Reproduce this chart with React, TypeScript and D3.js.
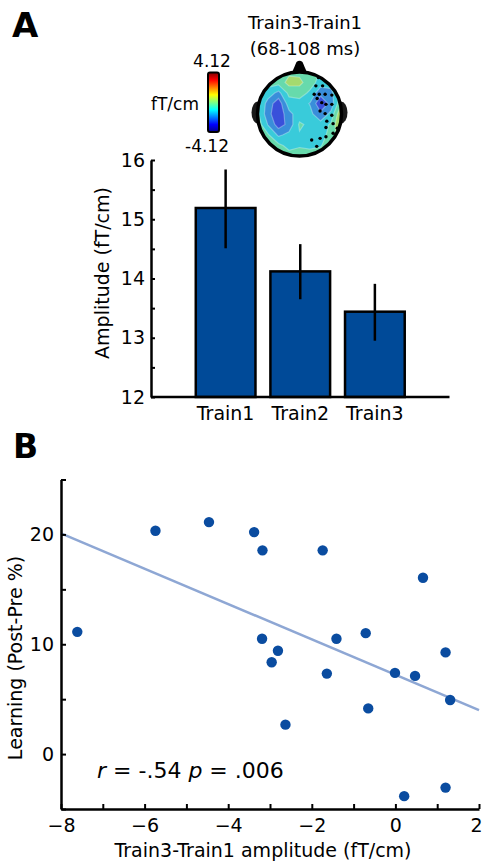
import * as d3 from 'd3';
import React, { useEffect, useRef } from 'react';

// Panel A: bar chart values (fT/cm)
const conditions = ['Train1', 'Train2', 'Train3'];
const amplitudes = [15.19, 14.12, 13.44];
const errLow = [14.51, 13.65, 12.95];
const errHigh = [15.84, 14.58, 13.91];
const barTicks = [12, 13, 14, 15, 16];

// Panel B: scatter values
const ampDiff = [-7.61, -5.74, -4.46, -3.38, -3.18, -3.19, -2.81, -2.96, -2.63, -1.74, -1.64,
    -1.41, -0.71, -0.65, -0.01, 0.47, 0.66, 1.20, 1.31, 0.21, 1.20];
const learning = [11.13, 20.33, 21.12, 20.21, 18.55, 10.50, 9.41, 8.36, 2.68, 18.55, 7.33,
    10.50, 11.01, 4.16, 7.39, 7.12, 16.05, 9.26, 4.92, -3.83, -3.05];
const fitX = [-8, 2];
const fitY = [20.1, 4.0];
const scatterXTicks = [-8, -6, -4, -2, 0, 2];
const scatterYTicks = [0, 10, 20];

// Topographic map (Train3-Train1), rows top->bottom, cols left->right, fT/cm
const colorLimit = 4.12;
const topoGrid = [
    [-0.4, -0.4, -0.3, -0.2, -0.2, -0.4, -0.9, -0.9, -0.5],
    [-0.4, -0.5, -0.5, 0.3, 0.2, -0.4, -1.2, -1.3, -0.5],
    [-0.5, -1.2, -1.9, -0.6, -0.4, -1.0, -2.2, -1.9, -0.4],
    [-0.6, -2.0, -3.0, -1.2, -1.2, -1.7, -3.1, -2.2, 0.0],
    [-0.6, -2.2, -3.1, -1.9, -1.2, -1.4, -2.3, -1.4, 0.9],
    [-0.3, -1.7, -2.9, -2.2, -0.7, -1.0, -1.3, -0.7, 1.1],
    [0.3, -0.7, -1.8, -1.4, -0.9, -1.1, -1.2, -0.5, 0.6],
    [0.5, -0.1, -0.6, -1.1, -0.9, -1.0, -0.9, -0.3, 0.2],
    [0.3, 0.0, -0.3, -0.5, -0.5, -0.5, -0.4, -0.2, 0.0],
];
// significant sensors, head-normalised coordinates
const sensorX = [0.45, 0.39, 0.55, 0.71, 0.35, 0.47, 0.61, 0.77, 0.42, 0.53, 0.63, 0.77, 0.49,
    0.61, 0.77, 0.65, 0.80, 0.90, 0.63, 0.80, 0.63, 0.29, 0.49, 0.80, 0.41, 0.69];
const sensorY = [-0.87, -0.67, -0.67, -0.73, -0.47, -0.47, -0.47, -0.45, -0.37, -0.27, -0.23, -0.23, -0.07,
    -0.01, 0.03, 0.17, 0.23, 0.34, 0.32, 0.46, 0.54, 0.62, 0.58, 0.74, 0.77, 0.86];

const FONT = '"DejaVu Sans", sans-serif';
const W = 483;
const H = 866;

const jetStops = [0, 0.125, 0.375, 0.625, 0.875, 1];
const jetColors = ['#00008f', '#0000ff', '#00ffff', '#ffff00', '#ff0000', '#800000'];

const App = () => {
    const ref = useRef<SVGSVGElement>(null);

    useEffect(() => {
        const svg = d3.select(ref.current);
        svg.selectAll('*').remove();
        drawBars(svg);
        drawTopo(svg);
        drawScatter(svg);
    }, []);

    const jet = d3.scaleLinear<string>()
        .domain(jetStops.map(t => -colorLimit + 2 * colorLimit * t))
        .range(jetColors)
        .clamp(true);

    const styleAxis = (g, width) => {
        g.select('.domain').attr('stroke', '#000').attr('stroke-width', width);
        g.selectAll('.tick line').attr('stroke', '#000').attr('stroke-width', 2);
        g.selectAll('.tick text').attr('fill', '#000').style('font-family', FONT).style('font-size', '19px');
    };

    const drawBars = (svg) => {
        const x = d3.scaleLinear().domain([0, 4]).range([151, 449.5]);
        const y = d3.scaleLinear().domain([12, 16]).range([397, 160]);

        svg.selectAll('.bar')
            .data(amplitudes)
            .enter().append('rect')
            .attr('class', 'bar')
            .attr('x', (d, i) => x(i + 1 - 0.4))
            .attr('width', x(0.8) - x(0))
            .attr('y', d => y(d))
            .attr('height', d => y(12) - y(d))
            .attr('fill', '#004a98')
            .attr('stroke', '#000')
            .attr('stroke-width', 2.5);

        svg.selectAll('.err')
            .data(amplitudes)
            .enter().append('line')
            .attr('class', 'err')
            .attr('x1', (d, i) => x(i + 1))
            .attr('x2', (d, i) => x(i + 1))
            .attr('y1', (d, i) => y(errLow[i]))
            .attr('y2', (d, i) => y(errHigh[i]))
            .attr('stroke', '#000')
            .attr('stroke-width', 2.5);

        const yAxis = svg.append('g')
            .attr('transform', `translate(${x(0)},0)`)
            .call(d3.axisLeft(y)
                .tickValues(d3.range(12, 16.01, 0.5))
                .tickSizeInner(-4)
                .tickSizeOuter(0)
                .tickPadding(6)
                .tickFormat(d => barTicks.includes(d) ? String(d) : ''));
        styleAxis(yAxis, 2.5);

        svg.append('line')
            .attr('x1', x(0)).attr('x2', x(4))
            .attr('y1', y(12)).attr('y2', y(12))
            .attr('stroke', '#000')
            .attr('stroke-width', 2.5);

        svg.selectAll('.cond')
            .data(conditions)
            .enter().append('text')
            .attr('class', 'cond')
            .attr('x', (d, i) => x(i + 1))
            .attr('y', 420)
            .attr('text-anchor', 'middle')
            .style('font-family', FONT)
            .style('font-size', '19px')
            .text(d => d);

        svg.append('text')
            .attr('transform', `translate(109,273) rotate(-90)`)
            .attr('text-anchor', 'middle')
            .style('font-family', FONT)
            .style('font-size', '19px')
            .text('Amplitude (fT/cm)');

        svg.append('text')
            .attr('x', 12).attr('y', 37)
            .style('font-family', FONT)
            .style('font-size', '34px')
            .style('font-weight', 'bold')
            .text('A');
    };

    const drawTopo = (svg) => {
        const cx = 299.5, cy = 114, r = 42;
        const n = topoGrid.length;
        const muted = v => d3.interpolateRgb(jet(v), '#8fa3a3')(0.4);

        // title
        svg.append('text')
            .attr('x', 305).attr('y', 29)
            .attr('text-anchor', 'middle')
            .style('font-family', FONT).style('font-size', '18px')
            .text('Train3-Train1');
        svg.append('text')
            .attr('x', 305).attr('y', 55)
            .attr('text-anchor', 'middle')
            .style('font-family', FONT).style('font-size', '18px')
            .text('(68-108 ms)');

        // colorbar
        const defs = svg.append('defs');
        const grad = defs.append('linearGradient')
            .attr('id', 'jet')
            .attr('x1', 0).attr('x2', 0).attr('y1', 1).attr('y2', 0);
        jetStops.forEach((t, i) => {
            grad.append('stop').attr('offset', t).attr('stop-color', jetColors[i]);
        });
        svg.append('rect')
            .attr('x', 208).attr('y', 72.5)
            .attr('width', 11).attr('height', 59.5)
            .attr('rx', 2)
            .attr('fill', 'url(#jet)')
            .attr('stroke', '#000')
            .attr('stroke-width', 2);
        svg.append('text')
            .attr('x', 212).attr('y', 66.5)
            .attr('text-anchor', 'middle')
            .style('font-family', FONT).style('font-size', '17px')
            .text(String(colorLimit));
        svg.append('text')
            .attr('x', 207).attr('y', 151.5)
            .attr('text-anchor', 'middle')
            .style('font-family', FONT).style('font-size', '17px')
            .text('-' + colorLimit);
        svg.append('text')
            .attr('x', 199).attr('y', 110)
            .attr('text-anchor', 'end')
            .style('font-family', FONT).style('font-size', '17px')
            .text('fT/cm');

        // nose and ears
        svg.append('path')
            .attr('d', `M${cx - 9},${cy - r + 4} L${cx - 3},${cy - r - 10} Q${cx},${cy - r - 12.5} ${cx + 3},${cy - r - 10} L${cx + 9},${cy - r + 4}Z`)
            .attr('fill', '#000');
        [-1, 1].forEach(s => {
            svg.append('ellipse')
                .attr('cx', cx + s * (r - 0.5)).attr('cy', cy - 1.5)
                .attr('rx', 6.5).attr('ry', 11)
                .attr('fill', '#1a1a1a');
        });

        defs.append('clipPath').attr('id', 'head')
            .append('circle').attr('cx', cx).attr('cy', cy).attr('r', r);

        const step = colorLimit / 5;
        const thresholds = d3.range(-colorLimit, colorLimit, step);
        const contours = d3.contours().size([n, n]).thresholds(thresholds)(topoGrid.flat());
        const proj = d3.geoIdentity()
            .scale(2.25 * r / n)
            .translate([cx - 1.125 * r, cy - 1.125 * r]);
        const path = d3.geoPath(proj);

        const map = svg.append('g').attr('clip-path', 'url(#head)');
        map.append('circle').attr('cx', cx).attr('cy', cy).attr('r', r)
            .attr('fill', muted(-0.4));
        map.selectAll('.band')
            .data(contours)
            .enter().append('path')
            .attr('class', 'band')
            .attr('d', path)
            .attr('fill', d => muted(d.value + step / 2))
            .attr('stroke', 'rgba(255,255,255,0.3)')
            .attr('stroke-width', 1.2);

        map.selectAll('.sensor')
            .data(sensorX)
            .enter().append('circle')
            .attr('class', 'sensor')
            .attr('cx', d => cx + d * r)
            .attr('cy', (d, i) => cy + sensorY[i] * r)
            .attr('r', 1.7)
            .attr('fill', '#000');

        svg.append('circle')
            .attr('cx', cx).attr('cy', cy).attr('r', r)
            .attr('fill', 'none')
            .attr('stroke', '#000')
            .attr('stroke-width', 3.5);
    };

    const drawScatter = (svg) => {
        const x = d3.scaleLinear().domain([-8, 2]).range([61, 479]);
        const y = d3.scaleLinear().domain([-5, 25]).range([809, 479.5]);

        svg.append('path')
            .datum(fitX.map((d, i) => [d, fitY[i]]))
            .attr('fill', 'none')
            .attr('stroke', '#8ea7d4')
            .attr('stroke-width', 2.5)
            .attr('d', d3.line().x(d => x(d[0])).y(d => y(d[1])));

        svg.selectAll('.dot')
            .data(ampDiff)
            .enter().append('circle')
            .attr('class', 'dot')
            .attr('cx', d => x(d))
            .attr('cy', (d, i) => y(learning[i]))
            .attr('r', 5.2)
            .attr('fill', '#0a4ca0');

        const xAxis = svg.append('g')
            .attr('transform', `translate(0,${y(-5)})`)
            .call(d3.axisBottom(x)
                .tickValues(d3.range(-8, 2.01, 1))
                .tickSizeInner(-5)
                .tickSizeOuter(0)
                .tickPadding(10)
                .tickFormat(d => scatterXTicks.includes(d) ? d3.format('')(d) : ''));
        styleAxis(xAxis, 2.5);
        // keep the last label inside the page
        xAxis.selectAll('.tick text').filter(d => d === 2).attr('dx', -3);

        const yAxis = svg.append('g')
            .attr('transform', `translate(${x(-8)},0)`)
            .call(d3.axisLeft(y)
                .tickValues(d3.range(-5, 25.01, 5))
                .tickSizeInner(-5)
                .tickSizeOuter(0)
                .tickPadding(7)
                .tickFormat(d => scatterYTicks.includes(d) ? String(d) : ''));
        styleAxis(yAxis, 2.5);

        const stat = svg.append('text')
            .attr('x', 97).attr('y', 778)
            .style('font-family', FONT)
            .style('font-size', '22px');
        stat.append('tspan').style('font-style', 'italic').text('r');
        stat.append('tspan').text(' = -.54 ');
        stat.append('tspan').style('font-style', 'italic').text('p');
        stat.append('tspan').text(' = .006');

        svg.append('text')
            .attr('x', 263).attr('y', 857)
            .attr('text-anchor', 'middle')
            .style('font-family', FONT)
            .style('font-size', '19px')
            .text('Train3-Train1 amplitude (fT/cm)');

        svg.append('text')
            .attr('transform', `translate(22,658) rotate(-90)`)
            .attr('text-anchor', 'middle')
            .style('font-family', FONT)
            .style('font-size', '19px')
            .text('Learning (Post-Pre %)');

        svg.append('text')
            .attr('x', 13).attr('y', 458)
            .style('font-family', FONT)
            .style('font-size', '33px')
            .style('font-weight', 'bold')
            .text('B');
    };

    return (
        <svg ref={ref} width={W} height={H}
            style={{ position: 'absolute', left: 0, top: 0, background: '#fff' }} />
    );
};

export default App;
